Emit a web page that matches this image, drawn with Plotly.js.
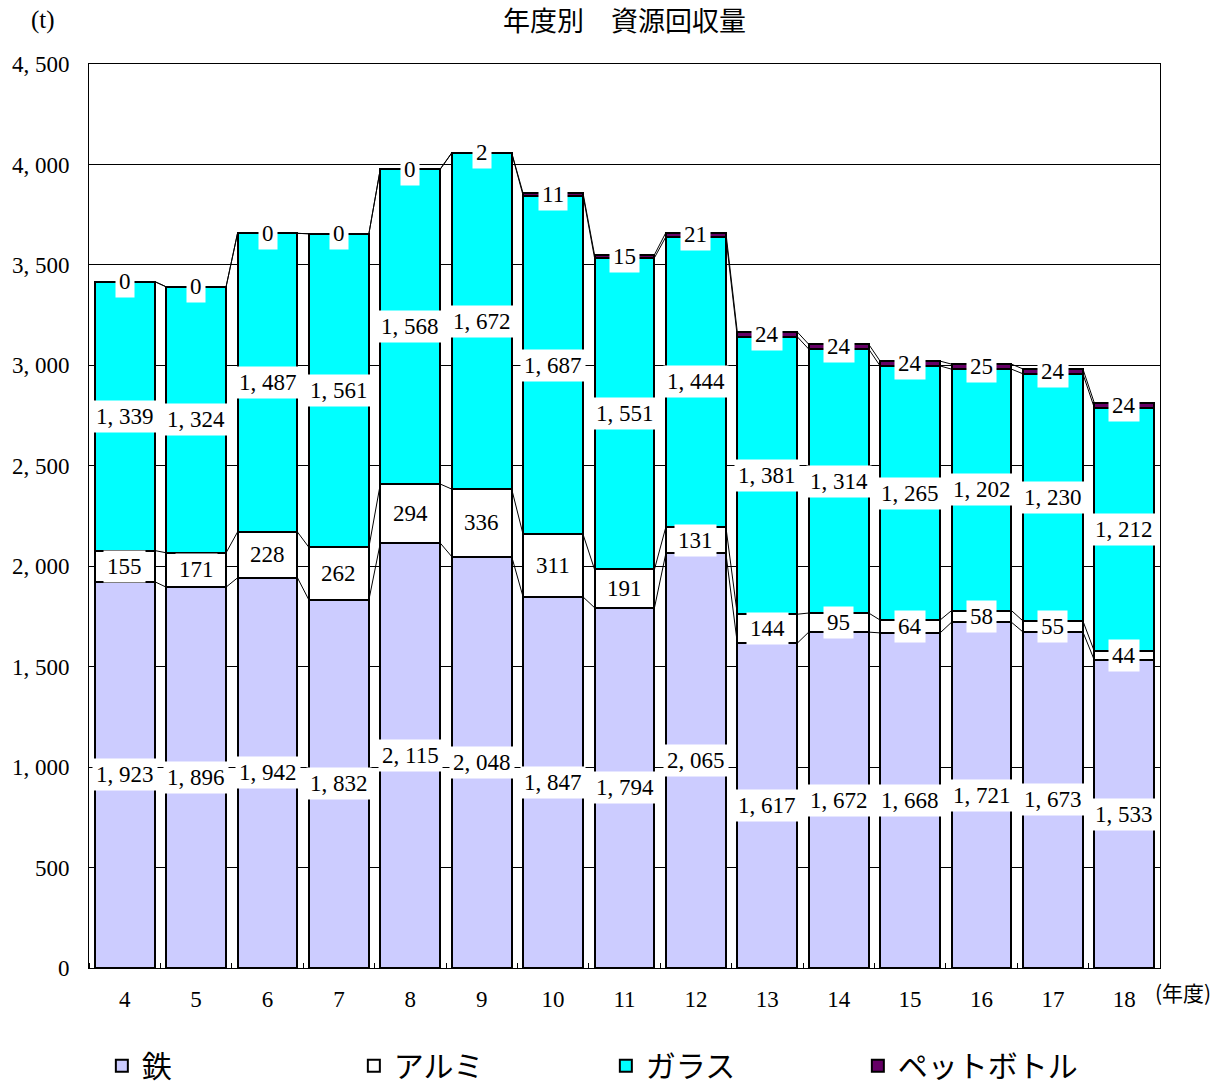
<!DOCTYPE html>
<html><head><meta charset="utf-8">
<script src="https://cdn.plot.ly/plotly-3.0.1.min.js"></script>
<style>body{margin:0;background:#fff}#chart{width:1216px;height:1088px}</style>
</head><body><div id="chart"></div>
<script>
const years = ['4','5','6','7','8','9','10','11','12','13','14','15','16','17','18'];
const iron  = [1923,1896,1942,1832,2115,2048,1847,1794,2065,1617,1672,1668,1721,1673,1533];
const alu   = [155,171,228,262,294,336,311,191,131,144,95,64,58,55,44];
const glass = [1339,1324,1487,1561,1568,1672,1687,1551,1444,1381,1314,1265,1202,1230,1212];
const pet   = [0,0,0,0,0,2,11,15,21,24,24,24,25,24,24];
const seriesNames = ['鉄','アルミ','ガラス','ペットボトル'];
const seriesColors = ['#CCCCFF','#FFFFFF','#00FFFF','#660066'];
const yTickVals = [0,500,1000,1500,2000,2500,3000,3500,4000,4500];

const serif = 'Liberation Serif, DejaVu Serif, serif';
const jp = 'Noto Sans CJK JP, sans-serif';
const fmt = v => v >= 1000 ? Math.floor(v/1000) + ', ' + String(v % 1000).padStart(3,'0') : String(v);

const xs = years.map((_, i) => i);
const BW = 0.84;
const allSeries = [iron, alu, glass, pet];

const traces = allSeries.map((s, k) => ({
  type: 'bar', x: xs, y: s, name: seriesNames[k], width: BW,
  marker: {color: seriesColors[k], line: {color: '#000', width: 2}},
  hoverinfo: 'skip'
}));

// cumulative levels
const cum = [];
let run = xs.map(() => 0);
allSeries.forEach(s => { run = run.map((r, i) => r + s[i]); cum.push(run.slice()); });

// series lines
cum.forEach(level => {
  const lx = [], ly = [];
  for (let i = 0; i < xs.length - 1; i++) {
    lx.push(xs[i] + BW/2, xs[i+1] - BW/2, null);
    ly.push(level[i], level[i+1], null);
  }
  traces.push({type: 'scatter', mode: 'lines', x: lx, y: ly, showlegend: false,
    line: {color: '#000', width: 1}, hoverinfo: 'skip', cliponaxis: false});
});

const annotations = [];
allSeries.forEach((s, k) => {
  s.forEach((v, i) => {
    const base = k === 0 ? 0 : cum[k-1][i];
    annotations.push({x: xs[i], y: base + v/2, xref: 'x', yref: 'y', text: fmt(v),
      showarrow: false, bgcolor: '#fff', borderpad: 3,
      font: {family: serif, size: 23, color: '#000'}});
  });
});
annotations.push({x: -0.0425, y: 1.0487, xref: 'paper', yref: 'paper', text: '(t)',
  xanchor: 'center', yanchor: 'middle',
  showarrow: false, font: {family: serif, size: 25, color: '#000'}});
annotations.push({x: 1.0215, y: -0.0265, xref: 'paper', yref: 'paper', text: '(年度)',
  xanchor: 'center', yanchor: 'middle',
  showarrow: false, font: {family: jp, size: 21, color: '#000'}});

const layout = {
  width: 1216, height: 1088,
  margin: {l: 89, r: 56, t: 64, b: 120, autoexpand: false},
  paper_bgcolor: '#fff', plot_bgcolor: '#fff',
  barmode: 'stack',
  title: {text: '年度別　資源回収量', x: 0.5, xref: 'paper', y: 0.980, yref: 'container', yanchor: 'middle',
    font: {family: jp, size: 27, color: '#000'}},
  xaxis: {range: [-0.5, 14.5], tickvals: xs, ticktext: years, showgrid: false, zeroline: false,
    showline: true, linecolor: '#000', linewidth: 1, mirror: true, automargin: false,
    ticks: '', ticklabelstandoff: 10, tickfont: {family: serif, size: 23, color: '#000'},
    minor: {tick0: 0.5, dtick: 1, ticks: 'inside', ticklen: 5, tickcolor: '#000', showgrid: false}},
  yaxis: {range: [0, 4500], tickvals: yTickVals, ticktext: yTickVals.map(fmt),
    showgrid: true, gridcolor: '#000', gridwidth: 1, zeroline: false, automargin: false,
    showline: true, linecolor: '#000', linewidth: 1, mirror: true,
    ticks: '', ticklabelstandoff: 14, tickfont: {family: serif, size: 23, color: '#000'}},
  showlegend: true,
  legend: {orientation: 'h', x: 0.012, xanchor: 'left', y: -0.108, yanchor: 'middle',
    entrywidth: 207, entrywidthmode: 'pixels', traceorder: 'normal',
    font: {family: jp, size: 30, color: '#000'}, bgcolor: 'rgba(0,0,0,0)'},
  annotations: annotations
};

Plotly.newPlot('chart', traces, layout, {displayModeBar: false, staticPlot: true});
</script></body></html>
